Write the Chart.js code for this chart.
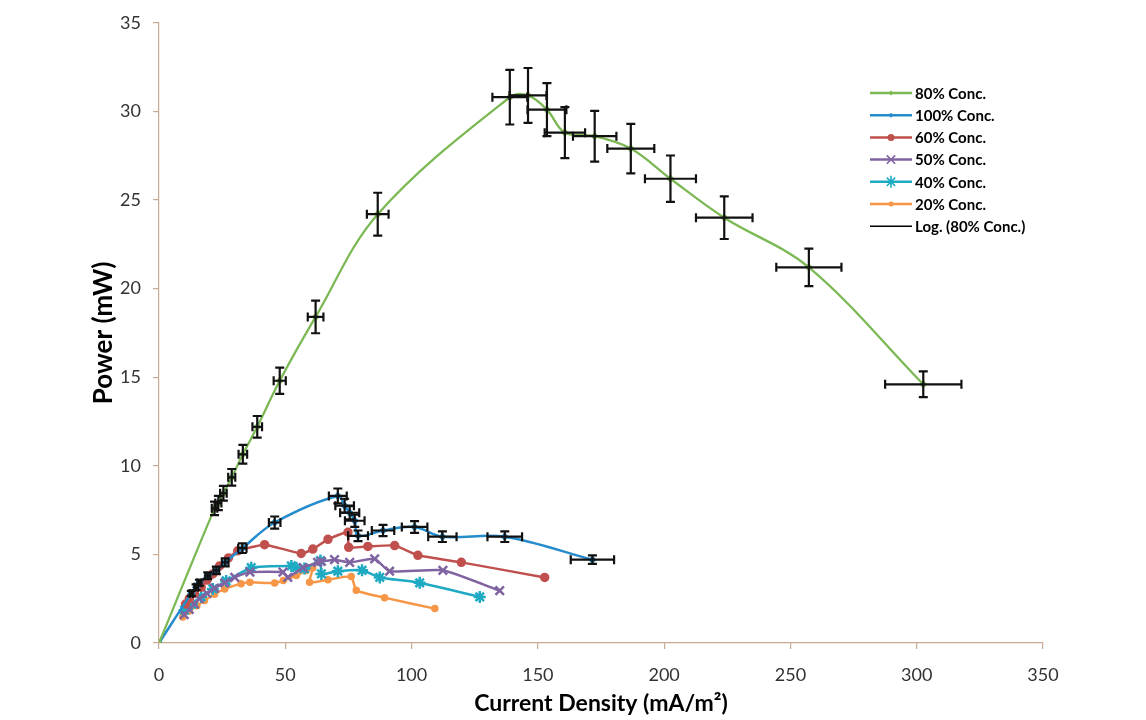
<!DOCTYPE html>
<html>
<head>
<meta charset="utf-8">
<script src="https://cdn.jsdelivr.net/npm/chart.js@4/dist/chart.umd.min.js"></script>
<style>
  html, body { margin: 0; padding: 0; background: #ffffff; }
  #wrap { width: 1146px; height: 720px; position: relative; }
</style>
</head>
<body>
<div id="wrap"><canvas id="c" width="1146" height="720"></canvas></div>
<script>
// Power vs current density for several fuel concentrations
const xTicks = [0, 50, 100, 150, 200, 250, 300, 350];
const yTicks = [0, 5, 10, 15, 20, 25, 30, 35];

// 80% concentration (with measurement error)
const x80 = [0, 22.0, 23.5, 25.5, 28.8, 33.2, 38.9, 47.8, 62.0, 86.6, 138.9, 146.1, 153.6, 160.7, 172.5, 186.8, 202.5, 223.8, 257.3, 302.6];
const p80 = [0, 7.6, 7.9, 8.45, 9.35, 10.65, 12.2, 14.8, 18.4, 24.2, 30.8, 30.9, 30.1, 28.8, 28.6, 27.9, 26.2, 24.0, 21.2, 14.6];
const ex80 = [0, 1.1, 1.2, 1.3, 1.4, 1.7, 1.9, 2.4, 3.1, 4.3, 6.9, 7.3, 7.7, 8.0, 8.6, 9.3, 10.1, 11.2, 12.9, 15.1];
const ey80 = [0, 0.38, 0.4, 0.42, 0.47, 0.53, 0.61, 0.74, 0.92, 1.21, 1.54, 1.55, 1.5, 1.44, 1.43, 1.4, 1.31, 1.2, 1.06, 0.73];

// 100% concentration (with measurement error)
const x100 = [0, 12.8, 14.7, 16.0, 19.3, 22.7, 26.2, 33.0, 45.8, 70.8, 73.5, 75.5, 77.5, 78.8, 88.7, 101.2, 112.2, 136.9, 171.6];
const p100 = [0, 2.8, 3.15, 3.4, 3.8, 4.1, 4.55, 5.35, 6.8, 8.3, 7.75, 7.35, 6.9, 6.05, 6.35, 6.55, 6.0, 6.0, 4.7];
const ex100 = [0, 0.64, 0.74, 0.8, 0.97, 1.14, 1.31, 1.65, 2.29, 3.54, 3.68, 3.78, 3.88, 3.94, 4.44, 5.06, 5.61, 6.85, 8.58];
const ey100 = [0, 0.14, 0.16, 0.17, 0.19, 0.21, 0.23, 0.27, 0.34, 0.42, 0.39, 0.37, 0.35, 0.3, 0.32, 0.33, 0.3, 0.3, 0.24];

// 60% concentration
const x60 = [10.5, 12.0, 14.0, 16.7, 19.0, 21.3, 24.0, 27.5, 31.2, 41.8, 56.3, 60.9, 66.9, 74.8, 75.1, 82.7, 93.3, 102.5, 119.7, 152.7];
const p60 = [2.2, 2.5, 2.8, 3.15, 3.55, 3.9, 4.35, 4.8, 5.2, 5.55, 5.05, 5.3, 5.85, 6.25, 5.4, 5.45, 5.5, 4.95, 4.55, 3.7];

// 50% concentration
const x50 = [10.0, 12.0, 14.0, 16.0, 19.0, 22.0, 26.0, 30.0, 36.0, 49.1, 51.0, 57.0, 62.8, 64.3, 69.5, 75.5, 85.4, 91.3, 112.4, 134.9];
const p50 = [1.6, 1.9, 2.2, 2.5, 2.8, 3.1, 3.4, 3.7, 4.0, 4.0, 3.7, 4.25, 4.55, 4.6, 4.7, 4.55, 4.75, 4.05, 4.1, 2.95];

// 40% concentration
const x40 = [10.1, 13.0, 16.7, 21.3, 26.6, 36.5, 52.4, 54.4, 57.6, 63.9, 64.3, 70.8, 80.4, 87.4, 103.2, 127.0];
const p40 = [1.85, 2.2, 2.6, 3.05, 3.5, 4.25, 4.35, 4.25, 4.2, 4.65, 3.9, 4.05, 4.1, 3.7, 3.4, 2.6];

// 20% concentration
const x20 = [9.4, 12.0, 15.0, 18.0, 22.0, 26.0, 32.5, 36.0, 45.8, 49.2, 54.4, 58.3, 60.9, 59.6, 66.9, 76.1, 78.1, 89.3, 109.2];
const p20 = [1.47, 1.8, 2.1, 2.4, 2.75, 3.05, 3.35, 3.43, 3.38, 3.53, 3.81, 4.09, 4.24, 3.43, 3.57, 3.75, 2.97, 2.56, 1.94];

const seriesNames = ['80% Conc.', '100% Conc.', '60% Conc.', '50% Conc.', '40% Conc.', '20% Conc.', 'Log. (80% Conc.)'];

const pts = (xs, ys) => xs.map((x, i) => ({ x: x, y: ys[i] }));

const FONT = 'Lato, "Open Sans", "Liberation Sans", sans-serif';

// Draws x/y error bars for datasets that carry errorX / errorY arrays
const errorBars = {
  id: 'errorBars',
  afterDatasetsDraw(chart) {
    const ctx = chart.ctx;
    const xs = chart.scales.x, ys = chart.scales.y;
    const cap = 4.5;
    ctx.save();
    ctx.strokeStyle = '#111111';
    ctx.lineWidth = 2.2;
    chart.data.datasets.forEach(ds => {
      if (!ds.errorX) return;
      ds.data.forEach((p, i) => {
        const ex = ds.errorX[i], ey = ds.errorY[i];
        if (!ex && !ey) return;
        const cx = xs.getPixelForValue(p.x), cy = ys.getPixelForValue(p.y);
        const x1 = xs.getPixelForValue(p.x - ex), x2 = xs.getPixelForValue(p.x + ex);
        const y1 = ys.getPixelForValue(p.y - ey), y2 = ys.getPixelForValue(p.y + ey);
        ctx.beginPath();
        ctx.moveTo(x1, cy); ctx.lineTo(x2, cy);
        ctx.moveTo(x1, cy - cap); ctx.lineTo(x1, cy + cap);
        ctx.moveTo(x2, cy - cap); ctx.lineTo(x2, cy + cap);
        ctx.moveTo(cx, y1); ctx.lineTo(cx, y2);
        ctx.moveTo(cx - cap, y1); ctx.lineTo(cx + cap, y1);
        ctx.moveTo(cx - cap, y2); ctx.lineTo(cx + cap, y2);
        ctx.stroke();
      });
    });
    ctx.restore();
  }
};

function drawMarker(ctx, style, x, y, r, color) {
  ctx.save();
  ctx.fillStyle = color;
  ctx.strokeStyle = color;
  ctx.lineWidth = 1.6;
  ctx.beginPath();
  if (style === 'circle') {
    ctx.arc(x, y, r, 0, Math.PI * 2);
    ctx.fill();
  } else if (style === 'crossRot') {
    ctx.moveTo(x - r * 0.7, y - r * 0.7); ctx.lineTo(x + r * 0.7, y + r * 0.7);
    ctx.moveTo(x - r * 0.7, y + r * 0.7); ctx.lineTo(x + r * 0.7, y - r * 0.7);
    ctx.stroke();
  } else if (style === 'star') {
    ctx.moveTo(x - r * 0.7, y - r * 0.7); ctx.lineTo(x + r * 0.7, y + r * 0.7);
    ctx.moveTo(x - r * 0.7, y + r * 0.7); ctx.lineTo(x + r * 0.7, y - r * 0.7);
    ctx.moveTo(x, y - r); ctx.lineTo(x, y + r);
    ctx.stroke();
  } else if (style === 'rectRot') {
    ctx.moveTo(x, y - r); ctx.lineTo(x + r, y); ctx.lineTo(x, y + r); ctx.lineTo(x - r, y);
    ctx.closePath();
    ctx.fill();
  }
  ctx.restore();
}

// Legend box drawn inside the plot, upper right
const insideLegend = {
  id: 'insideLegend',
  afterDraw(chart) {
    const ctx = chart.ctx;
    const left = 870, top = 93, row = 22.2, sample = 42;
    ctx.save();
    ctx.font = 'bold 15px ' + FONT;
    ctx.textBaseline = 'middle';
    ctx.fillStyle = '#000000';
    chart.data.datasets.forEach((ds, i) => {
      const y = top + i * row;
      ctx.save();
      ctx.strokeStyle = ds.borderColor;
      ctx.lineWidth = ds.legendLineWidth || ds.borderWidth;
      ctx.beginPath();
      ctx.moveTo(left, y); ctx.lineTo(left + sample, y);
      ctx.stroke();
      ctx.restore();
      if (ds.pointRadius > 0) {
        drawMarker(ctx, ds.pointStyle, left + sample / 2, y, ds.pointRadius, ds.borderColor);
      }
      ctx.fillStyle = '#000000';
      ctx.fillText(ds.label, left + sample + 3, y + 1);
    });
    ctx.restore();
  }
};

const chart = new Chart(document.getElementById('c'), {
  type: 'scatter',
  data: {
    datasets: [
      { label: seriesNames[0], data: pts(x80, p80), errorX: ex80, errorY: ey80,
        showLine: true, borderColor: '#7cb955', backgroundColor: '#7cb955', borderWidth: 2.3,
        pointStyle: 'rectRot', pointRadius: 2.5, tension: 0.35, order: 1 },
      { label: seriesNames[1], data: pts(x100, p100), errorX: ex100, errorY: ey100,
        showLine: true, borderColor: '#248bcc', backgroundColor: '#248bcc', borderWidth: 2.5,
        pointStyle: 'rectRot', pointRadius: 2.5, tension: 0.35, order: 2 },
      { label: seriesNames[2], data: pts(x60, p60),
        showLine: true, borderColor: '#c0504d', backgroundColor: '#c0504d', borderWidth: 2.5,
        pointStyle: 'circle', pointRadius: 3.5, tension: 0.15, order: 3 },
      { label: seriesNames[3], data: pts(x50, p50),
        showLine: true, borderColor: '#8064a2', backgroundColor: '#8064a2', borderWidth: 2.5,
        pointStyle: 'crossRot', pointRadius: 6, tension: 0.15, order: 4 },
      { label: seriesNames[4], data: pts(x40, p40),
        showLine: true, borderColor: '#1faac4', backgroundColor: '#1faac4', borderWidth: 2.5,
        pointStyle: 'star', pointRadius: 6, tension: 0.15, order: 5 },
      { label: seriesNames[5], data: pts(x20, p20),
        showLine: true, borderColor: '#f79646', backgroundColor: '#f79646', borderWidth: 2.5,
        pointStyle: 'circle', pointRadius: 2.5, tension: 0.15, order: 6 },
      { label: seriesNames[6], data: [],
        showLine: true, borderColor: '#000000', backgroundColor: '#000000', borderWidth: 1.5,
        legendLineWidth: 1.5, pointRadius: 0, order: 7 }
    ]
  },
  options: {
    responsive: false,
    animation: false,
    devicePixelRatio: 1,
    layout: { padding: { top: 18, right: 103, bottom: 0, left: 0 } },
    plugins: {
      legend: { display: false },
      tooltip: { enabled: false }
    },
    elements: { point: { borderWidth: 1.6, hoverRadius: 0 } },
    scales: {
      x: {
        type: 'linear', min: 0, max: 350,
        afterBuildTicks: s => { s.ticks = xTicks.map(v => ({ value: v })); },
        afterFit: s => { s.height = 77; },
        border: { display: true, color: '#c9a894', width: 1.2 },
        grid: { drawOnChartArea: false, drawTicks: true, tickLength: 6, color: '#c9a894', lineWidth: 1.2 },
        ticks: { padding: 15, color: '#333333', font: { family: FONT, size: 18 } },
        title: { display: true, text: 'Current Density (mA/m²)', color: '#000000',
                 font: { family: FONT, size: 23, weight: 'bold' }, padding: { top: 0, bottom: 3 } }
      },
      y: {
        type: 'linear', min: 0, max: 35,
        afterBuildTicks: s => { s.ticks = yTicks.map(v => ({ value: v })); },
        afterFit: s => { s.width = 159; },
        border: { display: true, color: '#c9a894', width: 1.2 },
        grid: { drawOnChartArea: false, drawTicks: true, tickLength: 6, color: '#c9a894', lineWidth: 1.2 },
        ticks: { padding: 12, color: '#333333', font: { family: FONT, size: 18 } },
        title: { display: true, text: 'Power (mW)', color: '#000000',
                 font: { family: FONT, size: 26, weight: 'bold' }, padding: { top: 88, bottom: 0 } }
      }
    }
  },
  plugins: [errorBars, insideLegend]
});
</script>
</body>
</html>
